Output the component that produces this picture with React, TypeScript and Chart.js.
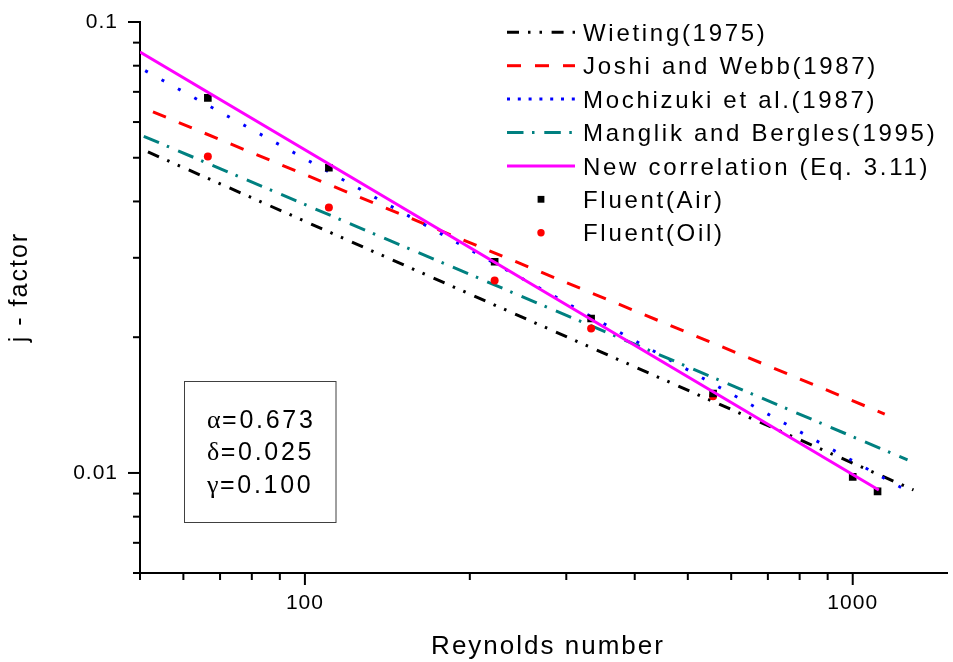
import React, { useEffect, useRef } from 'react';
import { Chart, registerables } from 'chart.js';

Chart.register(...registerables);

// ---------- data ----------
const airRe = [66.5, 110.6, 222, 333, 556, 1000, 1110];
const airJ = [0.0679, 0.0475, 0.0294, 0.022, 0.015, 0.0098, 0.0091];
const oilRe = [66.5, 110.6, 222, 333, 556];
const oilJ = [0.0503, 0.0388, 0.0267, 0.0209, 0.0148];

const wietingRe = [51.7, 1291];
const wietingJ = [0.0515, 0.00917];
const joshiRe = [52.8, 1144];
const joshiJ = [0.0632, 0.01351];
const mochizukiRe = [51.1, 1238];
const mochizukiJ = [0.078, 0.00922];
const manglikRe = [50.8, 1259];
const manglikJ = [0.0558, 0.01069];
const newRe = [50, 1116];
const newJ = [0.0858, 0.00917];

const seriesLabels = [
  'Wieting(1975)',
  'Joshi and Webb(1987)',
  'Mochizuki et al.(1987)',
  'Manglik and Bergles(1995)',
  'New correlation (Eq. 3.11)',
  'Fluent(Air)',
  'Fluent(Oil)',
];

const xTickLabels = [100, 1000];
const yTickLabels = [0.1, 0.01];
const xTitle = 'Reynolds number';
const yTitle = 'j - factor';
const paramGreek = ['α', 'δ', 'γ'];
const paramValues = ['=0.673', '=0.025', '=0.100'];

const SANS = "'Liberation Sans', Arial, Helvetica, sans-serif";
const SERIF = "'Liberation Serif', 'Times New Roman', serif";

const pts = (xs: number[], ys: number[]) => xs.map((x, i) => ({ x, y: ys[i] }));

const dashWieting = [12, 9, 2.5, 9, 2.5, 9.6];
const dashJoshi = [14, 14];
const dashMochizuki = [3, 15.7];
const dashManglik = [16.5, 8.5, 2.5, 9.8];
const legendDashes: (number[] | null)[] = [dashWieting, dashJoshi, [3, 7.8], dashManglik, [], null, null];

const near = (v: number, list: number[]) => list.some((t) => Math.abs(Math.log10(v) - Math.log10(t)) < 1e-6);

const niceMantissa = (v: number) => {
  const e = Math.floor(Math.log10(v) + 1e-9);
  const m = v / Math.pow(10, e);
  return Math.abs(m - Math.round(m)) < 1e-6 ? Math.round(m) : 0;
};

const decorPlugin = {
  id: 'decor',
  beforeDraw(chart: any) {
    (chart.ctx as any).letterSpacing = '1px';
  },
  afterDraw(chart: any) {
    const ctx = chart.ctx as CanvasRenderingContext2D & { letterSpacing: string };
    const area = chart.chartArea;
    const xs = chart.scales.x;
    const ys = chart.scales.y;
    ctx.save();
    // tick marks (major long, minor short)
    ctx.strokeStyle = '#000';
    ctx.lineWidth = 2;
    ctx.lineCap = 'butt';
    xs.ticks.forEach((t: any) => {
      const m = niceMantissa(t.value);
      if (!m) return;
      const len = m === 1 ? 12 : 7;
      const px = xs.getPixelForValue(t.value);
      ctx.beginPath();
      ctx.moveTo(px, area.bottom);
      ctx.lineTo(px, area.bottom + len);
      ctx.stroke();
    });
    ys.ticks.forEach((t: any) => {
      const m = niceMantissa(t.value);
      if (!m) return;
      const len = m === 1 ? 12 : 7;
      const py = ys.getPixelForValue(t.value);
      ctx.beginPath();
      ctx.moveTo(area.left - len, py);
      ctx.lineTo(area.left, py);
      ctx.stroke();
    });

    // axis titles
    ctx.fillStyle = '#000';
    ctx.letterSpacing = '2px';
    ctx.font = `26px ${SANS}`;
    ctx.textAlign = 'center';
    ctx.textBaseline = 'alphabetic';
    ctx.fillText(xTitle, 548, 654);
    ctx.save();
    ctx.font = `25px ${SANS}`;
    ctx.translate(27, 287);
    ctx.rotate(-Math.PI / 2);
    ctx.fillText(yTitle, 0, 0);
    ctx.restore();

    // legend
    const lx0 = 507, lx1 = 575, tx = 583, top = 32.3, row = 33.4;
    chart.data.datasets.forEach((d: any, i: number) => {
      const cy = top + i * row;
      if (d.showLine !== false) {
        ctx.save();
        ctx.strokeStyle = d.borderColor;
        ctx.lineWidth = d.borderWidth;
        ctx.setLineDash(legendDashes[i] || []);
        ctx.beginPath();
        ctx.moveTo(lx0, cy);
        ctx.lineTo(lx1, cy);
        ctx.stroke();
        ctx.restore();
      } else {
        ctx.fillStyle = d.pointBackgroundColor;
        const cx = (lx0 + lx1) / 2;
        if (d.pointStyle === 'rect') {
          ctx.fillRect(cx - 3.4, cy - 3.4, 6.8, 6.8);
        } else {
          ctx.beginPath();
          ctx.arc(cx, cy, 3.7, 0, Math.PI * 2);
          ctx.fill();
        }
      }
      ctx.fillStyle = '#000';
      ctx.font = `24px ${SANS}`;
      ctx.letterSpacing = '2.7px';
      ctx.textAlign = 'left';
      ctx.fillText(d.label, tx, cy + 8.6);
    });

    // parameter box
    ctx.strokeStyle = '#404040';
    ctx.lineWidth = 1;
    ctx.setLineDash([]);
    ctx.strokeRect(184.5, 381.5, 151.5, 141);
    paramGreek.forEach((g, i) => {
      const by = 427.6 + i * 32.6;
      ctx.textAlign = 'left';
      ctx.letterSpacing = '0px';
      ctx.font = `26px ${SERIF}`;
      ctx.fillText(g, 207, by);
      const gw = ctx.measureText(g).width;
      ctx.letterSpacing = '2.7px';
      ctx.font = `25px ${SANS}`;
      ctx.fillText(paramValues[i], 207 + gw + 1.5, by);
    });
    ctx.restore();
  },
};

const lineCommon = {
  borderWidth: 3,
  pointRadius: 0,
  fill: false,
  tension: 0,
  borderCapStyle: 'butt' as const,
};

export default function App() {
  const ref = useRef<HTMLCanvasElement>(null);
  useEffect(() => {
    const canvas = ref.current;
    if (!canvas) return;
    const chart = new Chart(canvas, {
      type: 'line',
      data: {
        datasets: [
          { ...lineCommon, label: seriesLabels[0], data: pts(wietingRe, wietingJ), borderColor: '#000000', borderDash: dashWieting, order: 6 },
          { ...lineCommon, label: seriesLabels[1], data: pts(joshiRe, joshiJ), borderColor: '#ff0000', borderDash: dashJoshi, order: 5 },
          { ...lineCommon, label: seriesLabels[2], data: pts(mochizukiRe, mochizukiJ), borderColor: '#0000ff', borderDash: dashMochizuki, order: 4 },
          { ...lineCommon, label: seriesLabels[3], data: pts(manglikRe, manglikJ), borderColor: '#008080', borderDash: dashManglik, order: 3 },
          { ...lineCommon, label: seriesLabels[4], data: pts(newRe, newJ), borderColor: '#ff00ff', borderDash: [], order: 0 },
          {
            label: seriesLabels[5], data: pts(airRe, airJ), showLine: false, pointStyle: 'rect', pointRadius: 5.4,
            pointBackgroundColor: '#000000', pointBorderWidth: 0, borderColor: '#000000', order: 1,
          },
          {
            label: seriesLabels[6], data: pts(oilRe, oilJ), showLine: false, pointStyle: 'circle', pointRadius: 4,
            pointBackgroundColor: '#ff0000', pointBorderWidth: 0, borderColor: '#ff0000', order: 2,
          },
        ] as any,
      },
      options: {
        responsive: false,
        animation: false,
        events: [],
        layout: { padding: { top: 22, left: 0, right: 0, bottom: 0 } },
        plugins: { legend: { display: false }, tooltip: { enabled: false } },
        scales: {
          x: {
            type: 'logarithmic',
            min: 50,
            max: 1490,
            grid: { display: false, drawTicks: false },
            border: { display: true, color: '#000', width: 2 },
            ticks: {
              autoSkip: false,
              maxRotation: 0,
              padding: 18,
              color: '#000',
              font: { family: SANS, size: 21 },
              callback: (v: any) => (near(Number(v), xTickLabels) ? String(Math.round(Number(v))) : ''),
            },
            afterFit: (s: any) => {
              s.height = 89;
              s.paddingLeft = 0;
              s.paddingRight = 0;
              s.paddingTop = 0;
              s.paddingBottom = 0;
            },
          },
          y: {
            type: 'logarithmic',
            min: 0.006,
            max: 0.1,
            grid: { display: false, drawTicks: false },
            border: { display: true, color: '#000', width: 2 },
            ticks: {
              autoSkip: false,
              padding: 22,
              color: '#000',
              font: { family: SANS, size: 21 },
              callback: (v: any) => {
                const n = Number(v);
                const hit = yTickLabels.find((t) => Math.abs(Math.log10(n) - Math.log10(t)) < 1e-6);
                return hit !== undefined ? String(hit) : '';
              },
            },
            afterFit: (s: any) => {
              s.width = 140;
              s.paddingLeft = 0;
              s.paddingRight = 0;
              s.paddingTop = 0;
              s.paddingBottom = 0;
            },
          },
        },
      } as any,
      plugins: [decorPlugin],
    });
    return () => chart.destroy();
  }, []);
  return (
    <canvas
      ref={ref}
      width={953}
      height={662}
      style={{ position: 'absolute', left: 0, top: 0, display: 'block' }}
    />
  );
}
